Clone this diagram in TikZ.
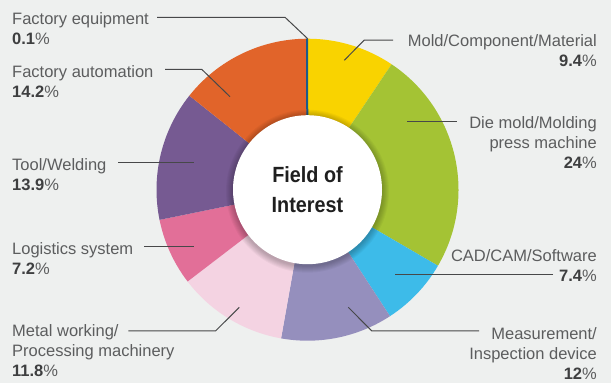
\documentclass[tikz,border=0pt]{standalone}
\usepackage{fontspec}
\setmainfont{Liberation Sans}
\newfontfamily\titlefont[FakeStretch=0.9]{Liberation Sans}
\definecolor{bg}{HTML}{EEF0EF}
\definecolor{cyel}{HTML}{F9D300}
\definecolor{cgrn}{HTML}{A4C334}
\definecolor{cblu}{HTML}{3DBBE9}
\definecolor{clav}{HTML}{958FBD}
\definecolor{cppk}{HTML}{F4D3E2}
\definecolor{cpnk}{HTML}{E26F98}
\definecolor{cpur}{HTML}{765A92}
\definecolor{corg}{HTML}{E1642A}
\definecolor{cdbl}{HTML}{1D5A8A}
\definecolor{labc}{HTML}{5C5D5E}
\definecolor{pctc}{HTML}{3E3F40}
\definecolor{leadc}{HTML}{474849}
\newcommand{\pct}[1]{{\color{pctc}\textbf{#1}}\%}
\begin{document}
\begin{tikzpicture}[x=1pt,y=-1pt,
  lab/.style={font=\fontsize{16.5}{20}\selectfont, text=labc, inner sep=0pt},
  labl/.style={lab, align=left, anchor=base west},
  labr/.style={lab, align=right, anchor=base east},
  lead/.style={draw=leadc, line width=1pt}]
\useasboundingbox[fill=bg] (0,0) rectangle (611,383);
\coordinate (C) at (307.5,189.7);
% slices (screen angles, clockwise from top)
\foreach \a/\b/\c in {90/56.16/cyel, 56.16/-30.24/cgrn, -30.24/-56.88/cblu,
  -56.88/-100.08/clav, -100.08/-142.56/cppk, -142.56/-168.48/cpnk,
  -168.48/-218.52/cpur, -218.52/-269.64/corg, -269.64/-270/cdbl}
  \fill[\c] (C) -- ([shift={(-\a:151)}]C) arc[start angle=-\a, end angle=-\b, radius=151] -- cycle;
\draw[cdbl, line width=2pt] ([shift={(-90.18:74)}]C) -- ([shift={(-90.18:151)}]C);
% shadow of the inner disc
\foreach \i in {1,...,7}
  \fill[black, opacity=0.035] ([yshift=-1.5pt]C) circle[radius=74.5+\i];
\node[circle, fill=white, minimum size=149pt, inner sep=0pt, align=center,
  font=\titlefont\fontsize{22}{29.4}\selectfont\bfseries, text=black!88] (title) at (C) {Field of\\Interest};
% labels (anchored at the baseline of their last line)
\node[labl] (lfe) at (12,44) {Factory equipment\\\pct{0.1}};
\node[labl] (lfa) at (12,97) {Factory automation\\\pct{14.2}};
\node[labl] (ltw) at (12,190) {Tool/Welding\\\pct{13.9}};
\node[labl] (llg) at (12,274) {Logistics system\\\pct{7.2}};
\node[labl] (lmw) at (12,376.7) {Metal working/\\Processing machinery\\\pct{11.8}};
\node[labr] (rmo) at (597,66.7) {Mold/Component/Material\\\pct{9.4}};
\node[labr] (rdi) at (597,168) {Die mold/Molding\\press machine\\\pct{24}};
\node[labr] (rca) at (597,281) {CAD/CAM/Software\\\pct{7.4}};
\node[labr] (rme) at (597,379.3) {Measurement/\\Inspection device\\\pct{12}};
% leader coordinates
\coordinate (fe0) at (157,17.3);   \coordinate (fe1) at (285,17.3);   \coordinate (fe2) at (307.7,38.7);
\coordinate (fa0) at (165,69.3);   \coordinate (fa1) at (201.7,69.3); \coordinate (fa2) at (230,96.7);
\coordinate (tw0) at (118,162.7);  \coordinate (tw1) at (194,162.7);
\coordinate (lg0) at (144,246.5);  \coordinate (lg1) at (194.3,246.5);
\coordinate (mw0) at (128.3,330.8);\coordinate (mw1) at (215.7,330.8);\coordinate (mw2) at (239.3,307.3);
\coordinate (mo0) at (393,40);     \coordinate (mo1) at (364.3,40);   \coordinate (mo2) at (344.3,60.3);
\coordinate (di0) at (456.5,121.8);\coordinate (di1) at (406.7,121.8);
\coordinate (ca0) at (553,274.3);  \coordinate (ca1) at (395,274.3);
\coordinate (me0) at (479,330.8);  \coordinate (me1) at (371.7,330.8);\coordinate (me2) at (348.3,307.3);
\draw[lead] (fe0) -- (fe1) -- (fe2);
\draw[lead] (fa0) -- (fa1) -- (fa2);
\draw[lead] (tw0) -- (tw1);
\draw[lead] (lg0) -- (lg1);
\draw[lead] (mw0) -- (mw1) -- (mw2);
\draw[lead] (mo0) -- (mo1) -- (mo2);
\draw[lead] (di0) -- (di1);
\draw[lead] (ca0) -- (ca1);
\draw[lead] (me0) -- (me1) -- (me2);
\end{tikzpicture}
\end{document}
